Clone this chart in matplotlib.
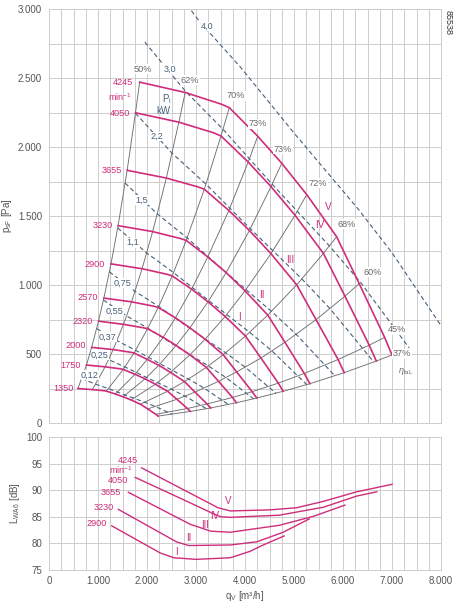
import matplotlib
matplotlib.use("Agg")
import matplotlib.pyplot as plt
import numpy as np

plt.rcParams['font.family'] = ['Liberation Sans', 'DejaVu Sans']
plt.rcParams['mathtext.fontset'] = 'custom'
plt.rcParams['mathtext.rm'] = 'Liberation Sans'
plt.rcParams['mathtext.it'] = 'Liberation Sans:italic'

# ---------------- data: fan speed curves (q [m3/h], p_sF [Pa]) ----------------
speeds = [4245, 4050, 3655, 3230, 2900, 2570, 2320, 2000, 1750, 1350]
q_4245 = [1850, 2780, 3520, 3680, 4260, 4750, 5260, 5870, 6330, 6850, 7000]
p_4245 = [2470, 2395, 2310, 2285, 2078, 1882, 1655, 1350, 1010, 620, 493]
q_4050 = [1765, 2650, 3360, 3510, 4065, 4530, 5020, 5600, 6040, 6535, 6680]
p_4050 = [2248, 2180, 2103, 2080, 1891, 1713, 1506, 1229, 919, 564, 449]
q_3655 = [1595, 2395, 3030, 3170, 3670, 4090, 4530, 5055, 5450, 5900, 6025]
p_3655 = [1831, 1775, 1712, 1694, 1540, 1395, 1227, 1001, 749, 460, 365]
q_3230 = [1410, 2115, 2680, 2800, 3240, 3615, 4000, 4465, 4815, 5210, 5325]
p_3230 = [1430, 1387, 1337, 1323, 1203, 1090, 958, 782, 585, 359, 285]
q_2900 = [1265, 1900, 2405, 2515, 2910, 3245, 3595, 4010, 4325, 4680, 4780]
p_2900 = [1153, 1118, 1078, 1066, 970, 878, 772, 630, 471, 289, 230]
q_2570 = [1120, 1685, 2130, 2230, 2580, 2875, 3185, 3555, 3830, 4145, 4240]
p_2570 = [905, 878, 847, 837, 762, 690, 607, 495, 370, 227, 181]
q_2320 = [1010, 1520, 1925, 2010, 2330, 2595, 2875, 3210, 3460, 3745, 3825]
p_2320 = [738, 715, 690, 683, 621, 562, 494, 403, 302, 185, 147]
q_2000 = [870, 1310, 1660, 1735, 2005, 2240, 2480, 2765, 2980, 3225, 3300]
p_2000 = [548, 532, 513, 507, 461, 418, 367, 300, 224, 138, 109]
q_1750 = [765, 1145, 1450, 1515, 1755, 1960, 2170, 2420, 2610, 2825, 2885]
p_1750 = [420, 407, 393, 388, 353, 320, 281, 230, 172, 105, 84]
q_1350 = [590, 885, 1120, 1170, 1355, 1510, 1675, 1865, 2015, 2180, 2225]
p_1350 = [250, 242, 234, 231, 210, 190, 167, 136, 102, 63, 50]

# efficiency isolines pass through these point indices of each speed curve
eff_index = [0, 1, 3, 4, 5, 6, 7, 8, 9, 10]
eff_labels = ["50%", "62%", "70%", "73%", "73%", "72%", "68%", "60%", "45%", "37%"]
eff_label_q = [1918, 2878, 3816, 4265, 4776, 5490, 6082, 6612, 7102, 7204]
eff_label_p = [2565, 2485, 2370, 2167, 1985, 1739, 1442, 1094, 674, 500]

# power isolines P_i [kW]
power_labels = ["4,0", "3,0", "2,2", "1,5", "1,1", "0,75", "0,55", "0,37", "0,25", "0,12"]
pw_q_40 = [2152, 3066, 3909, 5013, 6299, 6998, 8090]
pw_p_40 = [3344, 2912, 2578, 2096, 1555, 1235, 658]
pw_q_30 = [1956, 2785, 3552, 4555, 5723, 6358, 7350]
pw_p_30 = [2760, 2404, 2128, 1730, 1283, 1019, 544]
pw_q_22 = [1764, 2512, 3203, 4108, 5161, 5734, 6628]
pw_p_22 = [2245, 1955, 1731, 1408, 1044, 829, 442]
pw_q_15 = [1552, 2211, 2819, 3615, 4542, 5047, 5834]
pw_p_15 = [1739, 1515, 1341, 1090, 808, 642, 342]
pw_q_11 = [1400, 1994, 2542, 3260, 4096, 4551, 5261]
pw_p_11 = [1414, 1232, 1090, 887, 657, 522, 278]
pw_q_075 = [1232, 1755, 2237, 2869, 3605, 4006, 4631]
pw_p_075 = [1096, 954, 845, 687, 509, 404, 216]
pw_q_055 = [1111, 1582, 2017, 2587, 3251, 3612, 4176]
pw_p_055 = [891, 776, 687, 558, 414, 329, 175]
pw_q_037 = [973, 1386, 1768, 2267, 2849, 3165, 3659]
pw_p_037 = [684, 596, 527, 429, 318, 253, 135]
pw_q_025 = [854, 1217, 1551, 1990, 2500, 2778, 3211]
pw_p_025 = [527, 459, 406, 330, 245, 194, 104]
pw_q_012 = [669, 952, 1214, 1558, 1957, 2174, 2514]
pw_p_012 = [323, 281, 249, 202, 150, 119, 64]
power_label_q = [3218, 2469, 2198, 1892, 1714, 1510, 1347, 1204, 1041, 837]
power_label_p = [2872, 2565, 2075, 1616, 1306, 1014, 812, 623, 493, 348]

speed_label_q = [1714, 1653, 1483, 1313, 1143, 1007, 891, 748, 653, 497]
speed_label_p = [2464, 2246, 1828, 1428, 1152, 906, 737, 558, 420, 251]
roman = ["V", "IV", "III", "II", "I"]
roman_q = [5700, 5517, 4918, 4340, 3884]
roman_p = [1563, 1435, 1181, 928, 766]

# ---------------- data: sound power (q [m3/h], L_WA6 [dB]) ----------------
snd_q_4245 = [1890, 2700, 3450, 3700, 4500, 5050, 5600, 6280, 7000]
snd_L_4245 = [94.2, 90.3, 86.7, 86.1, 86.3, 86.7, 87.9, 89.7, 91.1]
snd_q_4050 = [1760, 2700, 3350, 3500, 3700, 4700, 5600, 6280, 6690]
snd_L_4050 = [92.4, 88.4, 85.6, 85.0, 84.9, 85.3, 86.8, 88.9, 89.7]
snd_q_3655 = [1620, 2880, 3300, 3700, 4700, 5400, 6040]
snd_L_3655 = [89.6, 83.6, 82.3, 82.1, 83.4, 85.1, 87.2]
snd_q_3230 = [1415, 2600, 2850, 3700, 4240, 4780, 5310]
snd_L_3230 = [86.4, 80.3, 79.6, 79.7, 80.3, 82.1, 84.6]
snd_q_2900 = [1280, 2270, 2550, 3000, 3700, 4100, 4370, 4800]
snd_L_2900 = [83.3, 78.2, 77.3, 77.0, 77.3, 78.5, 79.7, 81.4]
snd_speeds = [4245, 4050, 3655, 3230, 2900]
snd_label_q = [1816, 1612, 1469, 1327, 1184]
snd_label_L = [95.6, 91.75, 89.5, 86.7, 83.7]
snd_roman_q = [3659, 3388, 3184, 2857, 2606]
snd_roman_L = [87.9, 85.2, 83.5, 81.0, 78.4]

x_ticks = [0, 1000, 2000, 3000, 4000, 5000, 6000, 7000, 8000]
x_ticklabels = ["0", "1.000", "2.000", "3.000", "4.000", "5.000", "6.000", "7.000", "8.000"]
p_ticks = [0, 500, 1000, 1500, 2000, 2500, 3000]
p_ticklabels = ["0", "500", "1.000", "1.500", "2.000", "2.500", "3.000"]
L_ticks = [75, 80, 85, 90, 95, 100]

# ---------------- styling ----------------
MAG = '#cf2d7c'
GLINE = '#6f6f6f'
DASH = '#46607a'
GRID = '#cdcdcd'
TXT = '#555555'
FS = 6.6

curves_q = [q_4245, q_4050, q_3655, q_3230, q_2900, q_2570, q_2320, q_2000, q_1750, q_1350]
curves_p = [p_4245, p_4050, p_3655, p_3230, p_2900, p_2570, p_2320, p_2000, p_1750, p_1350]
pw_q = [pw_q_40, pw_q_30, pw_q_22, pw_q_15, pw_q_11, pw_q_075, pw_q_055, pw_q_037, pw_q_025, pw_q_012]
pw_p = [pw_p_40, pw_p_30, pw_p_22, pw_p_15, pw_p_11, pw_p_075, pw_p_055, pw_p_037, pw_p_025, pw_p_012]
snd_q = [snd_q_4245, snd_q_4050, snd_q_3655, snd_q_3230, snd_q_2900]
snd_L = [snd_L_4245, snd_L_4050, snd_L_3655, snd_L_3230, snd_L_2900]

W, H = 461, 605
fig = plt.figure(figsize=(W / 100, H / 100), dpi=100)
ax = fig.add_axes([49 / W, 1 - 423 / H, 392 / W, 414 / H])
ax2 = fig.add_axes([49 / W, 1 - 570 / H, 392 / W, 133 / H])


def style_axes(a):
    a.set_xlim(0, 8000)
    a.set_xticks(x_ticks)
    a.set_xticks(np.arange(0, 8001, 250), minor=True)
    a.grid(which='both', color=GRID, lw=0.7, zorder=0)
    a.set_axisbelow(True)
    a.tick_params(which='both', length=0, labelsize=7, labelcolor=TXT)
    for s in a.spines.values():
        s.set_color(GRID)
        s.set_linewidth(0.7)


style_axes(ax)
ax.set_ylim(0, 3000)
ax.set_yticks(p_ticks)
ax.set_yticklabels(p_ticklabels)
ax.set_yticks(np.arange(0, 3001, 250), minor=True)
ax.set_xticklabels([])
ax.tick_params(axis='y', pad=5)
ax.set_ylabel(r"p$_{\rm sF}$ [Pa]", fontsize=7, color=TXT)
ax.yaxis.set_label_coords(-0.09, 0.5)

# efficiency lines
for k in eff_index:
    xs = [c[k] for c in curves_q]
    ys = [c[k] for c in curves_p]
    ax.plot(xs, ys, color=GLINE, lw=0.65, zorder=2)
for lab, lq, lp in zip(eff_labels, eff_label_q, eff_label_p):
    ax.text(lq, lp, lab, fontsize=FS, color='#6a6a6a', ha='center', va='center', zorder=6,
            bbox=dict(facecolor='white', edgecolor='none', pad=0.3))
ax.text(7286, 370, r"$\eta_{\rm faL}$", fontsize=FS, color='#6a6a6a', ha='center', va='center')

# power lines
for xs, ys in zip(pw_q, pw_p):
    ax.plot(xs, ys, color=DASH, lw=0.8, ls=(0, (4, 2.6)), zorder=3)
for lab, lq, lp in zip(power_labels, power_label_q, power_label_p):
    ax.text(lq, lp, lab, fontsize=FS, color=DASH, ha='center', va='center', zorder=6,
            bbox=dict(facecolor='white', edgecolor='none', pad=0.2))
ax.text(2402, 2345, r"P$_{\rm i}$", fontsize=FS + 0.4, color=DASH, ha='center', va='center')
ax.text(2333, 2262, "kW", fontsize=FS + 0.4, color=DASH, ha='center', va='center')

# speed curves
for xs, ys in zip(curves_q, curves_p):
    ax.plot(xs, ys, color=MAG, lw=1.2, zorder=4, solid_joinstyle='round')
for n, lq, lp in zip(speeds, speed_label_q, speed_label_p):
    ax.text(lq, lp, str(n), fontsize=FS, color=MAG, ha='right', va='center', zorder=6)
ax.text(1700, 2362, r"min$^{-1}$", fontsize=FS, color=MAG, ha='right', va='center')
for r, lq, lp in zip(roman, roman_q, roman_p):
    ax.text(lq, lp, r, fontsize=FS + 0.6, color=MAG, ha='center', va='center', zorder=6)

fig.text(448 / W, 1 - 23 / H, "85538", rotation=-90, fontsize=6.5, color='#333333',
         ha='center', va='center')

# ---------------- lower: sound ----------------
style_axes(ax2)
ax2.set_ylim(75, 100)
ax2.set_yticks(L_ticks)
ax2.set_xticklabels(x_ticklabels)
ax2.tick_params(axis='y', pad=5)
ax2.tick_params(axis='x', pad=4)
ax2.set_ylabel(r"L$_{\rm WA6}$ [dB]", fontsize=7, color=TXT)
ax2.yaxis.set_label_coords(-0.07, 0.5)
ax2.set_xlabel(r"q$_{\rm V}$ [m³/h]", fontsize=7, color=TXT)
ax2.xaxis.set_label_coords(0.5, -0.145)

for xs, ys in zip(snd_q, snd_L):
    ax2.plot(xs, ys, color=MAG, lw=1.0, zorder=4)
for n, lq, lL in zip(snd_speeds, snd_label_q, snd_label_L):
    ax2.text(lq, lL, str(n), fontsize=FS, color=MAG, ha='right', va='center')
ax2.text(1714, 93.7, r"min$^{-1}$", fontsize=FS, color=MAG, ha='right', va='center')
for r, lq, lL in zip(roman, snd_roman_q, snd_roman_L):
    ax2.text(lq, lL, r, fontsize=FS + 0.4, color=MAG, ha='center', va='center', zorder=6)

fig.savefig("out.png", dpi=100)
